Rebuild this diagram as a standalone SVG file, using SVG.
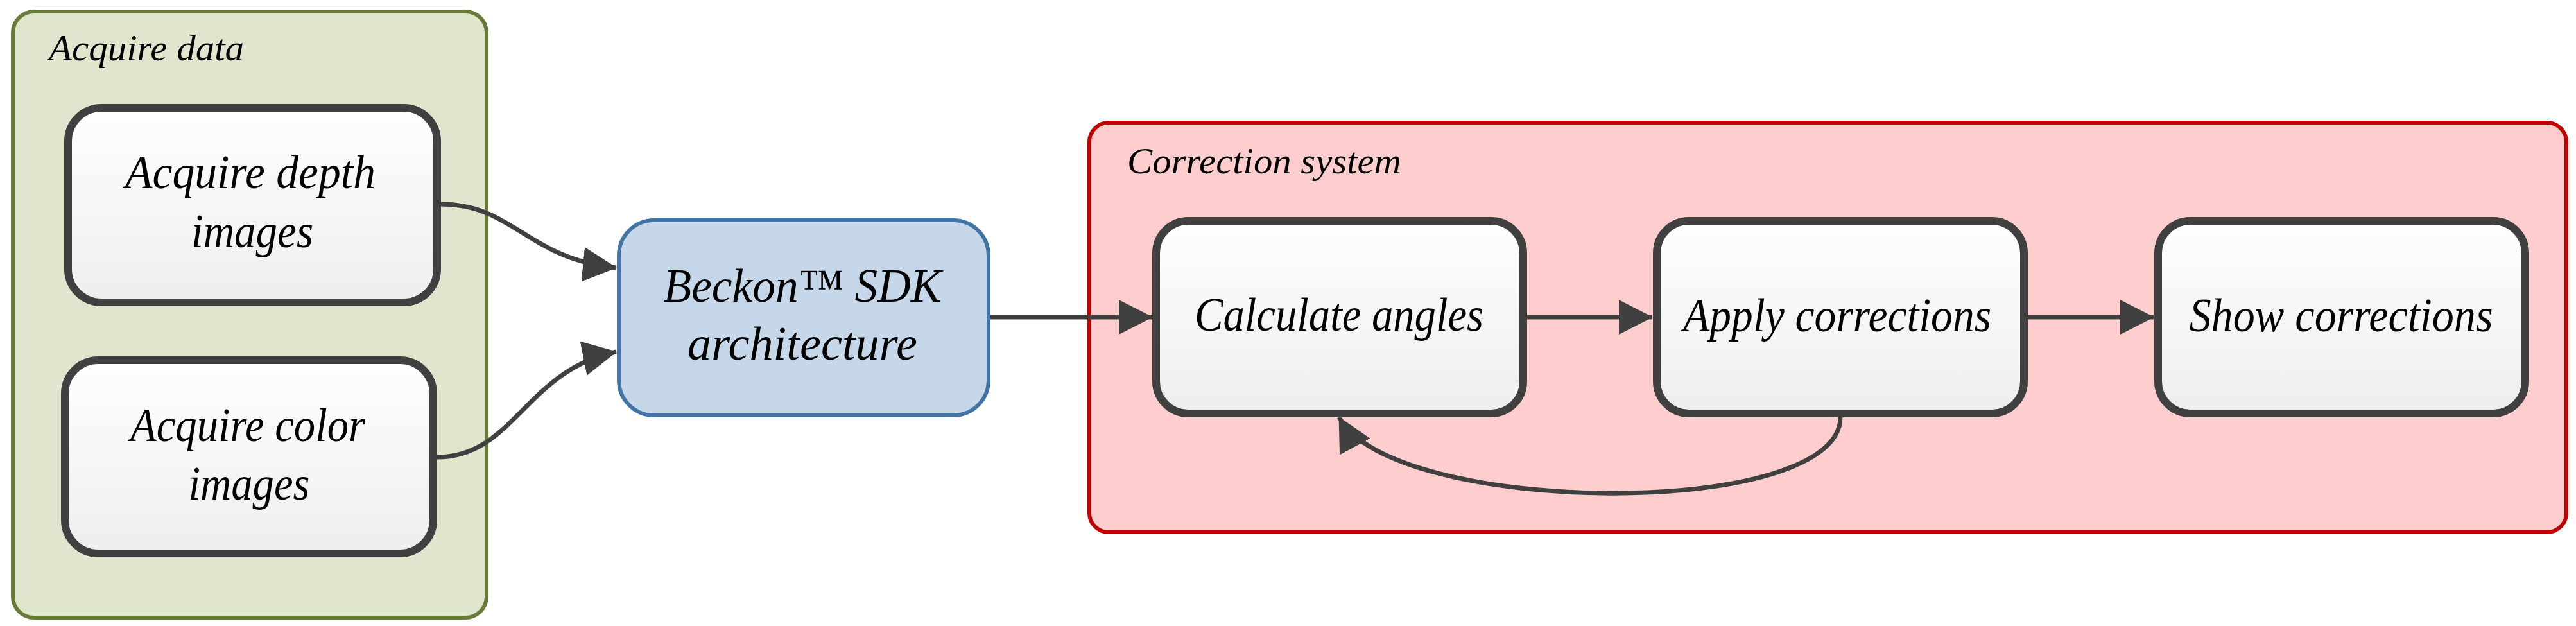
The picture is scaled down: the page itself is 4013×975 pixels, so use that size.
<svg xmlns="http://www.w3.org/2000/svg" width="4013" height="975" viewBox="0 0 4013 975">
  <style>
    .lbl { font-family: "Liberation Serif", "DejaVu Serif", serif; font-style: italic; fill: #000; }
    .grp { font-size: 58px; }
    .txt { font-size: 74px; text-anchor: middle; }
    .node { fill: url(#nodeGrad); stroke: #404040; stroke-width: 12; }
    .edge { fill: none; stroke: #404040; stroke-width: 7; }
  </style>
  <defs>
    <linearGradient id="nodeGrad" x1="0" y1="0" x2="0" y2="1">
      <stop offset="0" stop-color="#fefefe"/>
      <stop offset="1" stop-color="#eeeeee"/>
    </linearGradient>
    <marker id="arrow" markerUnits="userSpaceOnUse" markerWidth="54" markerHeight="54" refX="52" refY="27" orient="auto" viewBox="0 0 54 54">
      <path d="M0,0 L53,27 L0,54 z" fill="#404040"/>
    </marker>
  </defs>

  <rect width="4013" height="975" fill="#ffffff"/>

  <g id="group-acquire-data">
    <rect x="20" y="18" width="738" height="944" rx="33" ry="33" fill="#e0e5cd" stroke="#677a38" stroke-width="6"/>
    <text class="lbl grp" x="76" y="94" textLength="304" lengthAdjust="spacingAndGlyphs">Acquire data</text>
  </g>

  <g id="group-correction-system">
    <rect x="1697" y="191" width="2301" height="638" rx="30" ry="30" fill="#fecece" stroke="#c00000" stroke-width="6"/>
    <text class="lbl grp" x="1756" y="270" textLength="427" lengthAdjust="spacingAndGlyphs">Correction system</text>
  </g>

  <g id="node-depth">
    <rect class="node" x="106" y="168" width="575" height="303" rx="52" ry="52"/>
    <text class="lbl txt" x="390" y="293" textLength="390" lengthAdjust="spacingAndGlyphs">Acquire depth</text>
    <text class="lbl txt" x="393" y="385" textLength="190" lengthAdjust="spacingAndGlyphs">images</text>
  </g>

  <g id="node-color">
    <rect class="node" x="101" y="561" width="574" height="301" rx="52" ry="52"/>
    <text class="lbl txt" x="386" y="687" textLength="366" lengthAdjust="spacingAndGlyphs">Acquire color</text>
    <text class="lbl txt" x="388" y="778" textLength="189" lengthAdjust="spacingAndGlyphs">images</text>
  </g>

  <g id="node-beckon">
    <rect x="964" y="343" width="576" height="304" rx="55" ry="55" fill="#c5d7e8" stroke="#4274a5" stroke-width="6"/>
    <text class="lbl txt" x="1250" y="470" textLength="433" lengthAdjust="spacingAndGlyphs">Beckon™ SDK</text>
    <text class="lbl txt" x="1250" y="560" textLength="358" lengthAdjust="spacingAndGlyphs">architecture</text>
  </g>

  <g id="node-calculate">
    <rect class="node" x="1801" y="344" width="572" height="300" rx="50" ry="50"/>
    <text class="lbl txt" x="2086" y="515" textLength="450" lengthAdjust="spacingAndGlyphs">Calculate angles</text>
  </g>

  <g id="node-apply">
    <rect class="node" x="2581" y="344" width="572" height="300" rx="50" ry="50"/>
    <text class="lbl txt" x="2862" y="516" textLength="480" lengthAdjust="spacingAndGlyphs">Apply corrections</text>
  </g>

  <g id="node-show">
    <rect class="node" x="3362" y="344" width="572" height="300" rx="50" ry="50"/>
    <text class="lbl txt" x="3647" y="516" textLength="473" lengthAdjust="spacingAndGlyphs">Show corrections</text>
  </g>

  <g id="connectors">
    <path class="edge" d="M687,318 C800,318 820,403 960,417" marker-end="url(#arrow)"/>
    <path class="edge" d="M681,712 C800,712 820,576 960,548" marker-end="url(#arrow)"/>
    <path class="edge" d="M1543,494 L1795,494" marker-end="url(#arrow)"/>
    <path class="edge" d="M2379,494 L2574,494" marker-end="url(#arrow)"/>
    <path class="edge" d="M3159,494 L3355,494" marker-end="url(#arrow)"/>
    <path class="edge" d="M2867,650 C2867,810 2170,805 2086,650" marker-end="url(#arrow)"/>
  </g>
</svg>
